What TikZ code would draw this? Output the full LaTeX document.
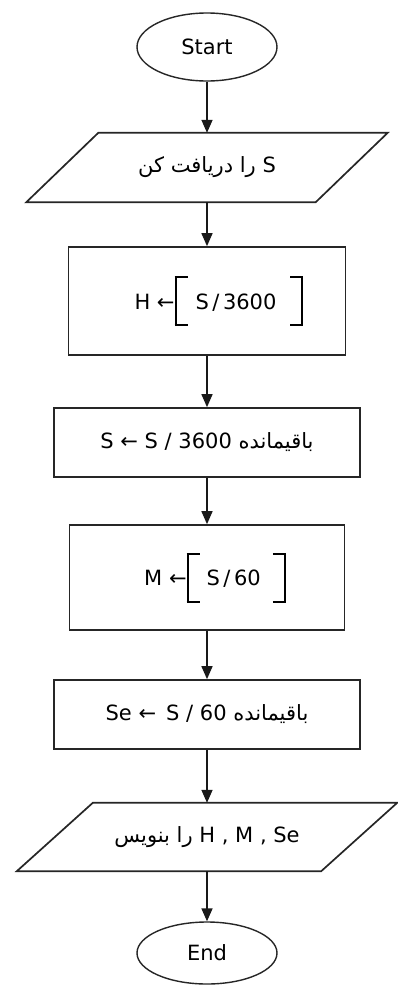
\documentclass[tikz,border=0pt]{standalone}
\usepackage{fontspec}
\setmainfont{DejaVu Sans}
\newfontfamily\fa[Script=Arabic]{DejaVu Sans}
\TeXXeTstate=1
\usetikzlibrary{shapes.geometric,arrows.meta}
\newcommand\mylbr{\raisebox{-17pt}{\rule{2pt}{50pt}}\kern-2pt\raisebox{-17pt}{\rule{13pt}{2pt}}\kern-13pt\raisebox{31pt}{\rule{13pt}{2pt}}}
\newcommand\myrbr{\raisebox{31pt}{\rule{13pt}{2pt}}\kern-13pt\raisebox{-17pt}{\rule{13pt}{2pt}}\kern-2pt\raisebox{-17pt}{\rule{2pt}{50pt}}}
\begin{document}
\begin{tikzpicture}[x=1pt,y=-1pt,
  every node/.style={font=\fontsize{21}{24}\selectfont, text=black, inner sep=0pt},
  term/.style={ellipse, draw=black!85, line width=1.4pt, minimum width=140pt},
  procbox/.style={rectangle, draw=black!85, line width=1.7pt},
  iobox/.style={rectangle, draw=none},
  ioline/.style={draw=black!85, line width=1.7pt, line join=miter},
  arr/.style={draw=black!90, line width=1.6pt, -{Triangle[width=11pt,length=13pt]}}]
\useasboundingbox[fill=white] (0,0) rectangle (397,986);

\node[term, minimum height=68pt] (start) at (207,47) {Start};

\node[iobox, minimum width=289pt, minimum height=69pt] (in) at (207,167.5)
  {{\fa\beginR را دریافت کن\endR}\ S};
\draw[ioline] ([xshift=36pt]in.north west) -- ([xshift=36pt]in.north east)
  -- ([xshift=-36pt]in.south east) -- ([xshift=-36pt]in.south west) -- cycle;

\node[procbox, minimum width=277pt, minimum height=108pt] (b1) at (207,301)
  {\hspace{24pt}H ←\mylbr\hspace{8pt}S\,/\,3600\hspace{14pt}\myrbr};

\node[procbox, minimum width=306pt, minimum height=69pt] (b2) at (207,442.5)
  {S ← S / 3600 {\fa\beginR باقیمانده\endR}};

\node[procbox, minimum width=275pt, minimum height=105pt] (b3) at (207,577.5)
  {\hspace{16pt}M ←\mylbr\hspace{7pt}S\,/\,60\hspace{12pt}\myrbr};

\node[procbox, minimum width=306pt, minimum height=69pt] (b4) at (207,714.5)
  {Se ←\hspace{10pt}S / 60 {\fa\beginR باقیمانده\endR}};

\node[iobox, minimum width=304pt, minimum height=68pt] (out) at (207,837)
  {{\fa\beginR را بنویس\endR}\ H , M , Se};
\draw[ioline] ([xshift=38pt]out.north west) -- ([xshift=38pt]out.north east)
  -- ([xshift=-38pt]out.south east) -- ([xshift=-38pt]out.south west) -- cycle;

\node[term, minimum height=62pt] (end) at (207,953) {End};

\draw[arr] (start) -- (in);
\draw[arr] (in) -- (b1);
\draw[arr] (b1) -- (b2);
\draw[arr] (b2) -- (b3);
\draw[arr] (b3) -- (b4);
\draw[arr] (b4) -- (out);
\draw[arr] (out) -- (end);
\end{tikzpicture}
\end{document}
